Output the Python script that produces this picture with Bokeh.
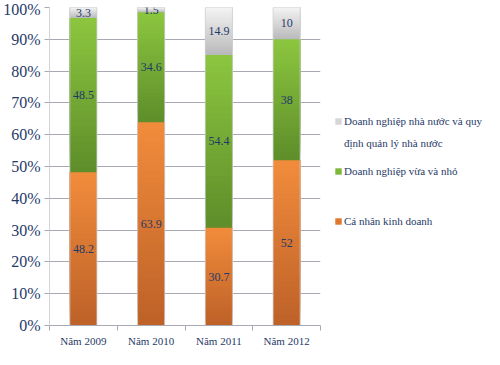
from bokeh.plotting import figure
from bokeh.layouts import row
from bokeh.models import (ColumnDataSource, FixedTicker, PrintfTickFormatter, Range1d,
                          Legend, LegendItem)
from bokeh.embed import file_html
from bokeh.resources import INLINE
from bokeh.core.properties import value

categories = ["Năm 2009", "Năm 2010", "Năm 2011", "Năm 2012"]
ca_nhan = [48.2, 63.9, 30.7, 52]
dn_vua_nho = [48.5, 34.6, 54.4, 38]
dn_nha_nuoc = [3.3, 1.5, 14.9, 10]
series_names = ["Cá nhân kinh doanh", "Doanh nghiệp vừa và nhỏ",
                ["Doanh nghiệp nhà nước và quy", "định quản lý nhà nước"]]
y_ticks = [0, 10, 20, 30, 40, 50, 60, 70, 80, 90, 100]

# gradient (top colour, bottom colour) per series
grad = [("#F28C3C", "#BD6128"), ("#8CC63F", "#5E8D2A"), ("#F4F4F4", "#B9B9BB")]
legend_colors = ["#E0782F", "#7DB83A", "#D6D6D8"]

NAVY = "#1F3A68"
GRID = "#A9A9B3"
SERIF = "Liberation Serif"
HALF = 0.2
NSLICE = 30

def hex2rgb(h):
    h = h.lstrip("#")
    return [int(h[i:i + 2], 16) for i in (0, 2, 4)]

def mix(c1, c2, t):
    a, b = hex2rgb(c1), hex2rgb(c2)
    return "#%02x%02x%02x" % tuple(int(round(a[i] + (b[i] - a[i]) * t)) for i in range(3))

xs = [i + 1 for i in range(len(categories))]

p = figure(width=326, height=349, output_backend="svg", toolbar_location=None,
           x_range=Range1d(0.5, len(categories) + 0.5), y_range=Range1d(0, 100),
           min_border_top=7, min_border_left=0, min_border_right=6, min_border_bottom=0)
p.outline_line_color = None
p.background_fill_color = "white"

all_series = [ca_nhan, dn_vua_nho, dn_nha_nuoc]
left, right, bottom, top, colors = [], [], [], [], []
lx, ly, lt = [], [], []
base = [0.0] * len(categories)
for s, vals in enumerate(all_series):
    ctop, cbot = grad[s]
    for i, v in enumerate(vals):
        b0 = base[i]
        for k in range(NSLICE):
            # each slice runs from its own bottom to the segment top; later
            # (higher) slices paint over the earlier ones -> seamless gradient
            y0 = b0 + v * k / NSLICE
            t = 1 - (k + 0.5) / NSLICE
            left.append(xs[i] - HALF)
            right.append(xs[i] + HALF)
            bottom.append(y0)
            top.append(b0 + v)
            colors.append(mix(ctop, cbot, t))
        lx.append(xs[i])
        ly.append(b0 + v / 2)
        lt.append("%g" % v)
        base[i] = b0 + v

src = ColumnDataSource(dict(left=left, right=right, bottom=bottom, top=top, color=colors))
p.quad(left="left", right="right", bottom="bottom", top="top", fill_color="color",
       line_color=None, source=src)

# thin light outline of each full bar
p.quad(left=[x - HALF for x in xs], right=[x + HALF for x in xs], bottom=[0] * len(xs),
       top=base, fill_color=None, line_color="#D0D0D0", line_width=0.8)

p.text(x=lx, y=ly, text=lt, text_font=value(SERIF), text_font_size="12px",
       text_color=NAVY, text_align="center", text_baseline="middle")

# axes
p.yaxis.ticker = FixedTicker(ticks=y_ticks)
p.yaxis.formatter = PrintfTickFormatter(format="%d%%")
p.yaxis.major_label_text_font = SERIF
p.yaxis.major_label_text_font_size = "16px"
p.yaxis.major_label_text_color = NAVY
p.yaxis.axis_line_color = "#D4D4D8"
p.yaxis.major_tick_line_color = GRID
p.yaxis.major_tick_out = 5
p.yaxis.major_tick_in = 0
p.yaxis.minor_tick_line_color = None
p.yaxis.major_label_standoff = 4

p.xaxis.ticker = FixedTicker(ticks=xs, minor_ticks=[x - 0.5 for x in xs] + [xs[-1] + 0.5])
p.xaxis.major_label_overrides = {x: c for x, c in zip(xs, categories)}
p.xaxis.major_label_text_font = SERIF
p.xaxis.major_label_text_font_size = "11px"
p.xaxis.major_label_text_color = NAVY
p.xaxis.axis_line_color = GRID
p.xaxis.major_tick_line_color = None
p.xaxis.major_tick_out = 0
p.xaxis.minor_tick_line_color = GRID
p.xaxis.minor_tick_out = 5
p.xaxis.minor_tick_in = 0
p.xaxis.major_label_standoff = 4

p.xgrid.grid_line_color = None
p.ygrid.ticker = FixedTicker(ticks=y_ticks)
p.ygrid.grid_line_color = GRID
p.ygrid.grid_line_width = 1

# legend panel (separate canvas so it is not clipped by the plot frame)
lp = figure(width=158, height=349, output_backend="svg", toolbar_location=None,
            x_range=Range1d(0, 1), y_range=Range1d(0, 1),
            min_border_left=0, min_border_right=0, min_border_top=7, min_border_bottom=0)
lp.axis.visible = False
lp.grid.grid_line_color = None
lp.outline_line_color = None
leg_r = []
for c in legend_colors:
    leg_r.append(lp.rect(x=[0], y=[0], width=0, height=0, fill_color=c, line_color=None))
blank_r = lp.rect(x=[0], y=[0], width=0, height=0, fill_alpha=0, line_color=None)

common = dict(orientation="vertical", label_text_font=SERIF, label_text_font_size="11px",
              label_text_color=NAVY, glyph_width=8, glyph_height=8, label_standoff=2,
              padding=0, margin=0, border_line_color=None, background_fill_alpha=0,
              label_height=14, label_text_line_height=1.2)
legend_a = Legend(items=[LegendItem(label=series_names[2][0], renderers=[leg_r[2]]),
                         LegendItem(label=series_names[2][1], renderers=[blank_r])],
                  location=(8, 175), spacing=8, **common)
legend_b = Legend(items=[LegendItem(label=series_names[1], renderers=[leg_r[1]])],
                  location=(8, 147), spacing=0, **common)
legend_c = Legend(items=[LegendItem(label=series_names[0], renderers=[leg_r[0]])],
                  location=(8, 97), spacing=0, **common)
for lg in (legend_a, legend_b, legend_c):
    lp.add_layout(lg, "center")

open("out.html", "w").write(file_html(row(p, lp), INLINE))
